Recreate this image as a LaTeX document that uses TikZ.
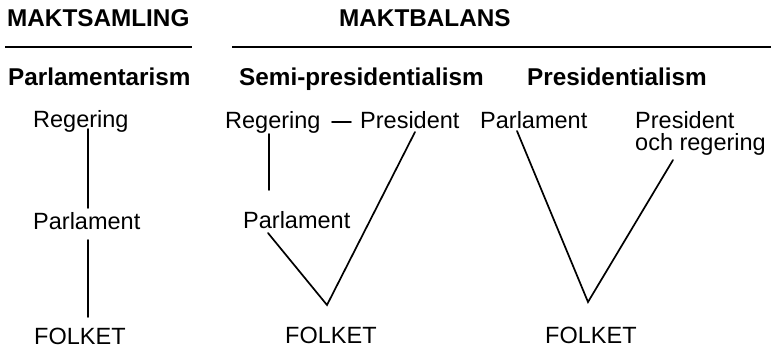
\documentclass[tikz,border=0pt]{standalone}
\usepackage{fontspec}
\setmainfont{Liberation Sans}
\begin{document}
\begin{tikzpicture}[x=1pt,y=-1pt,
  lbl/.style={anchor=base west,inner sep=0pt,font=\fontsize{23.5}{27}\selectfont},
  head/.style={anchor=base west,inner sep=0pt,font=\fontsize{24.3}{28}\selectfont\bfseries},
  conn/.style={line width=1.7pt,line cap=round,line join=miter},
  rule/.style={line width=2pt}]
\useasboundingbox[fill=white] (0,0) rectangle (771,349);
% headings
\node[head] (msam) at (7,26) {MAKTSAMLING};
\node[head] (mbal) at (339,26) {MAKTBALANS};
\coordinate (r1a) at (5,47); \coordinate (r1b) at (192,47);
\coordinate (r2a) at (232,47); \coordinate (r2b) at (771,47);
\draw[rule] (r1a) -- (r1b);
\draw[rule] (r2a) -- (r2b);
\node[head] (parlism) at (8,85) {Parlamentarism};
\node[head] (semi) at (239,85) {Semi-presidentialism};
\node[head] (pres) at (527,85) {Presidentialism};
% column 1
\node[lbl] (reg1) at (33,127) {Regering};
\node[lbl] (parl1) at (33,229) {Parlament};
\node[lbl] (folk1) at (34,344) {FOLKET};
\coordinate (c1a) at (88,129); \coordinate (c1b) at (88,208);
\coordinate (c1c) at (88,240); \coordinate (c1d) at (88,317);
\draw[conn] (c1a) -- (c1b);
\draw[conn] (c1c) -- (c1d);
% column 2
\node[lbl] (reg2) at (225,128) {Regering};
\node[lbl] (pres2) at (360,128) {President};
\node[lbl] (parl2) at (243,228) {Parlament};
\node[lbl] (folk2) at (285,343) {FOLKET};
\coordinate (d1) at (332,122); \coordinate (d2) at (351,122);
\draw[conn] (d1) -- (d2);
\coordinate (c2a) at (269,134); \coordinate (c2b) at (269,190);
\draw[conn] (c2a) -- (c2b);
\coordinate (v2l) at (268,233); \coordinate (v2m) at (327,305); \coordinate (v2r) at (415,132);
\draw[conn] (v2l) -- (v2m) -- (v2r);
% column 3
\node[lbl] (parl3) at (480,128) {Parlament};
\node[lbl,align=left] (pres3) at (635,128) {President};
\node[lbl] (och3) at (635,150) {och regering};
\node[lbl] (folk3) at (545,343) {FOLKET};
\coordinate (v3l) at (517,131); \coordinate (v3m) at (588,302); \coordinate (v3r) at (673,160);
\draw[conn] (v3l) -- (v3m) -- (v3r);
\end{tikzpicture}
\end{document}
